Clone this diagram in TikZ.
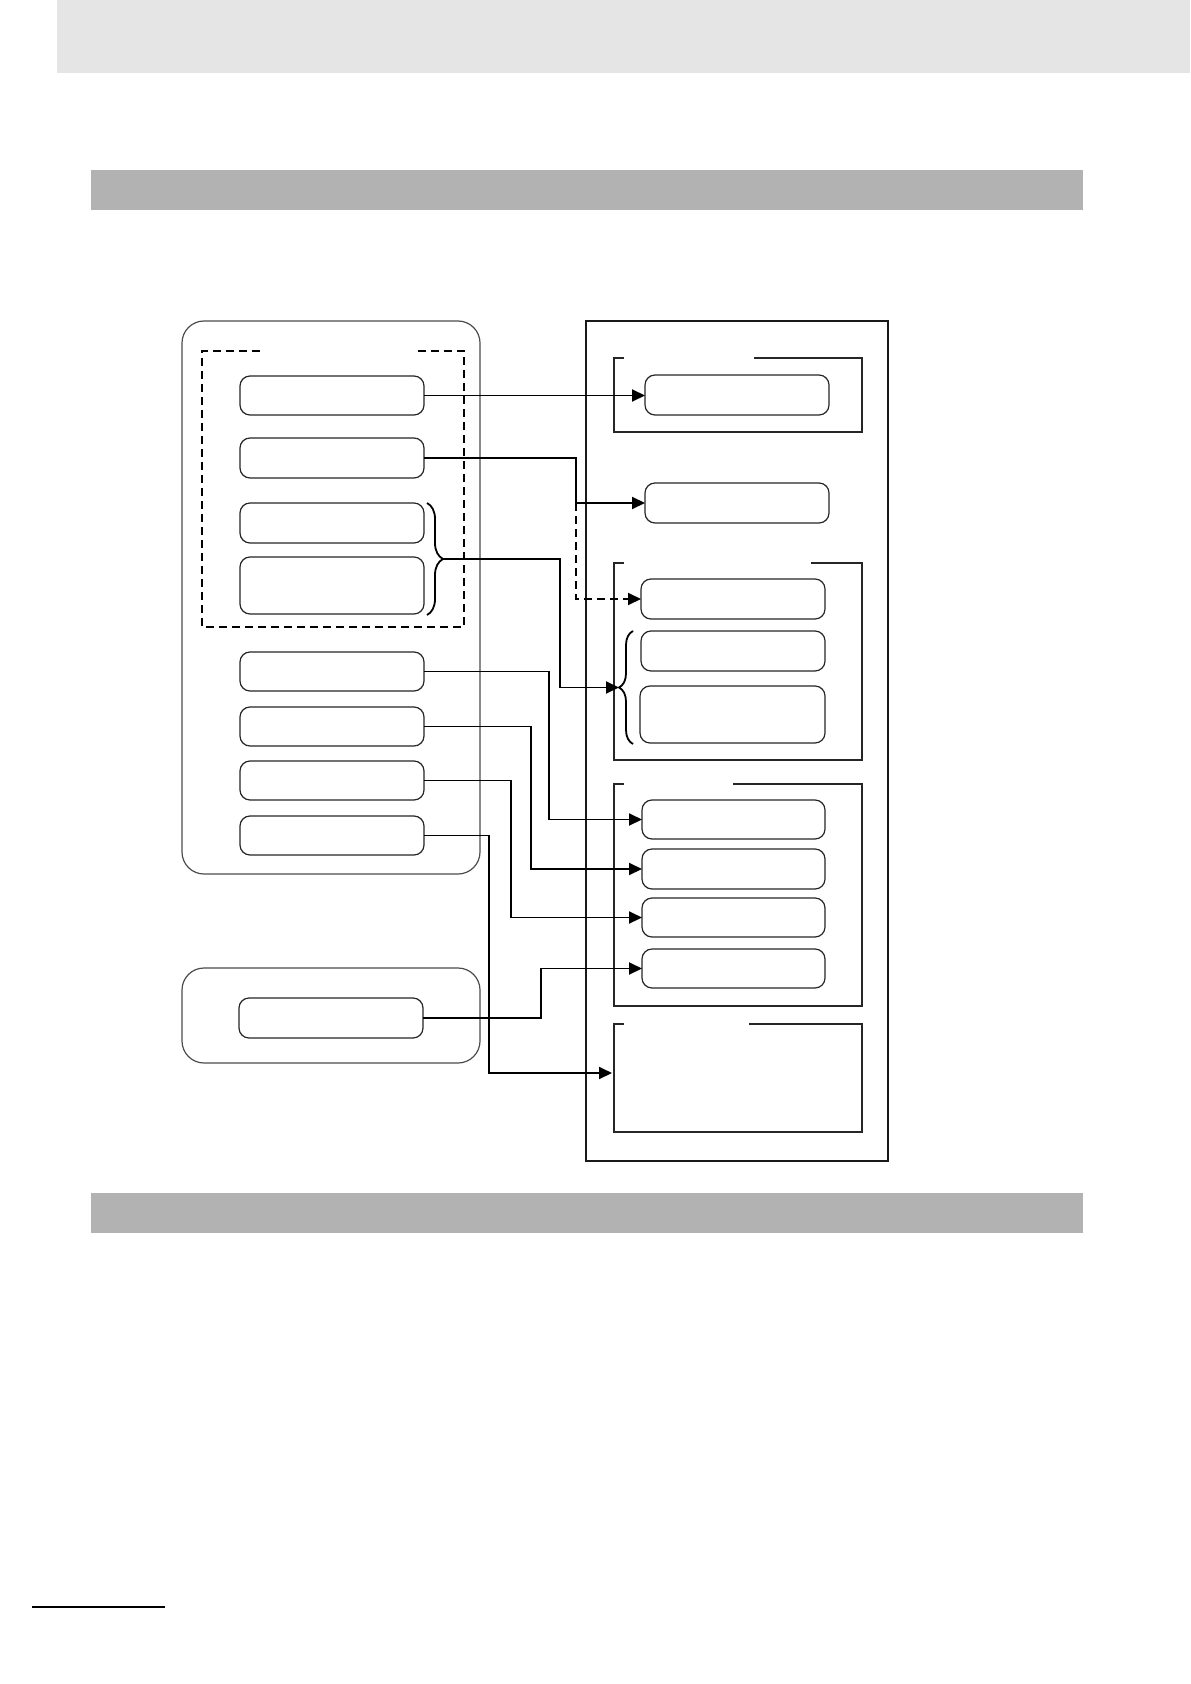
\documentclass[tikz,border=0pt]{standalone}
\usetikzlibrary{arrows.meta,fit,decorations.pathreplacing}
\begin{document}
\begin{tikzpicture}[x=0.5pt,y=-0.5pt,
  rbox/.style={draw=black!85,line width=0.6pt,rounded corners=5pt,inner sep=0pt,outer sep=0pt},
  obox/.style={draw=black!70,line width=0.6pt,rounded corners=11pt,inner sep=0pt,outer sep=0pt},
  bigbox/.style={draw=black!90,line width=1.05pt,inner sep=0pt,outer sep=0pt},
  grp/.style={draw=black!85,line width=0.55pt},
  dashbox/.style={draw=black,line width=0.9pt,dash pattern=on 4pt off 2.5pt},
  conn/.style={draw=black,line width=0.95pt,-{Triangle[length=6.5pt,width=6pt]}},
  dconn/.style={conn,dash pattern=on 4pt off 2.5pt},
  lbrace/.style={draw=black,line width=0.9pt,decorate,decoration={brace,amplitude=8pt}},
  rbrace/.style={draw=black,line width=0.9pt,decorate,decoration={brace,amplitude=7pt}}
]
\useasboundingbox (0,0) rectangle (1190,1684);
\fill[white] (0,0) rectangle (1190,1684);
% page decoration
\fill[black!10] (57,0) rectangle (1190,73.5);
\fill[black!30] (91,170) rectangle (1083,210);
\fill[black!30] (91,1193) rectangle (1083,1233);
\draw[line width=1pt] (32,1607) -- (165,1607);

% left outer boxes
\node[obox, fit={(182,321) (480,874)}] (L) {};
\node[obox, fit={(182,968) (480,1063)}] (LB) {};
\draw[dashbox] (260,351) -- (202,351) -- (202,627) -- (464,627) -- (464,351) -- (415,351);

% left inner boxes
\node[rbox, fit={(240,376) (424,415)}] (b1) {};
\node[rbox, fit={(240,438) (424,478)}] (b2) {};
\node[rbox, fit={(240,503) (424,543)}] (b3) {};
\node[rbox, fit={(240,557) (424,614)}] (b4) {};
\node[rbox, fit={(240,652) (424,691)}] (b5) {};
\node[rbox, fit={(240,707) (424,746)}] (b6) {};
\node[rbox, fit={(240,761) (424,800)}] (b7) {};
\node[rbox, fit={(240,816) (424,855)}] (b8) {};
\node[rbox, fit={(239,998) (423,1038)}] (b9) {};

% right big box and groups
\node[bigbox, fit={(586,321) (888,1161)}] (R) {};
\draw[grp] (624,358) -- (614,358) -- (614,432) -- (862,432) -- (862,358) -- (754,358);
\draw[grp] (624,563) -- (614,563) -- (614,760) -- (862,760) -- (862,563) -- (811,563);
\draw[grp] (624,784) -- (614,784) -- (614,1006) -- (862,1006) -- (862,784) -- (733,784);
\draw[grp] (624,1024) -- (614,1024) -- (614,1132) -- (862,1132) -- (862,1024) -- (749,1024);

% right inner boxes
\node[rbox, fit={(645,375) (829,415)}] (r1) {};
\node[rbox, fit={(645,483) (829,523)}] (r2) {};
\node[rbox, fit={(641,579) (825,619)}] (r3) {};
\node[rbox, fit={(641,631) (825,671)}] (r4) {};
\node[rbox, fit={(640,686) (825,743)}] (r5) {};
\node[rbox, fit={(642,800) (825,839)}] (r6) {};
\node[rbox, fit={(642,849) (825,889)}] (r7) {};
\node[rbox, fit={(642,898) (825,937)}] (r8) {};
\node[rbox, fit={(642,949) (825,988)}] (r9) {};

% braces
\draw[lbrace] (427,503) -- (427,615);
\coordinate (lbt) at (443,559);
\draw[rbrace] (633,744) -- (633,631);
\coordinate (rbt) at (619,687.5);

% via points (x positions of the vertical runs)
\coordinate (v2) at (576,458);
\coordinate (v2b) at (576,503);
\coordinate (v3) at (560,559);
\coordinate (v5) at (549,672);
\coordinate (v6) at (531,727);
\coordinate (v7) at (511,780);
\coordinate (v8) at (489,836);
\coordinate (g4in) at (612,1073);
\coordinate (v9) at (541,1018);

% connectors
\draw[conn] (b1.east) -- (b1.east -| r1.west);
\draw[conn] (b2.east) -- (b2.east -| v2) |- (r2.west);
\draw[dconn] (v2b) |- (r3.west);
\draw[conn] (lbt) -- (lbt -| v3) |- (rbt);
\draw[conn] (b5.east) -- (b5.east -| v5) |- (r6.west);
\draw[conn] (b6.east) -- (b6.east -| v6) |- (r7.west);
\draw[conn] (b7.east) -- (b7.east -| v7) |- (r8.west);
\draw[conn] (b8.east) -- (b8.east -| v8) |- (g4in);
\draw[conn] (b9.east) -- (b9.east -| v9) |- (r9.west);
\end{tikzpicture}
\end{document}
